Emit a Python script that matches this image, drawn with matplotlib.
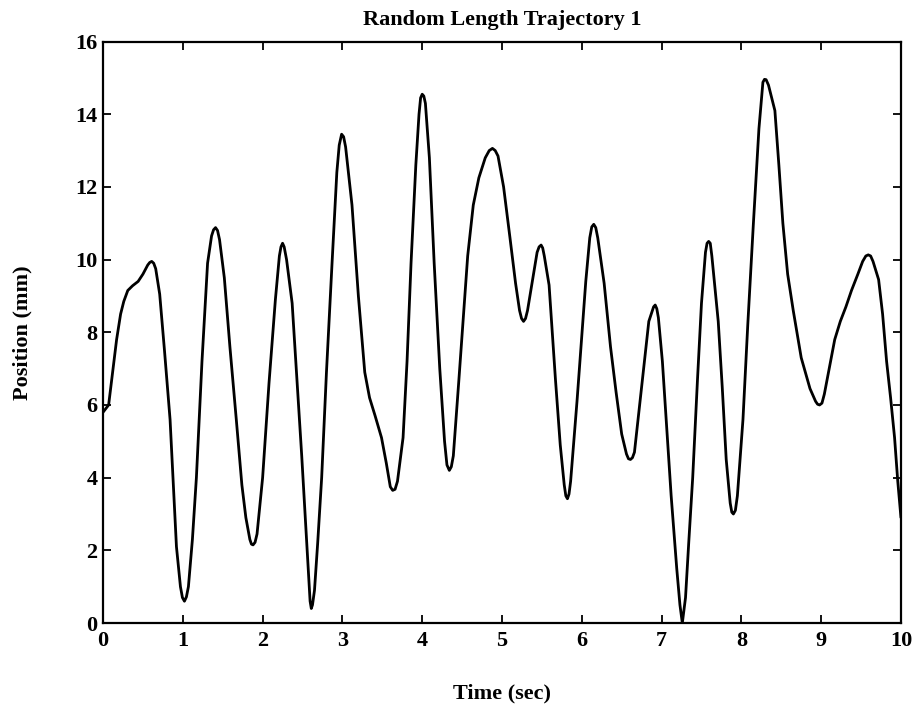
import matplotlib
matplotlib.use("Agg")
import matplotlib.pyplot as plt

# Values (time in sec, position in mm)
time_sec = [
    0.00, 0.07, 0.12, 0.17, 0.22, 0.26, 0.31, 0.37, 0.44, 0.50, 0.56, 0.585, 0.61, 0.635, 0.66,
    0.71, 0.77, 0.84, 0.92, 0.97, 0.995, 1.02, 1.045, 1.07, 1.12, 1.17, 1.24, 1.31, 1.36, 1.385,
    1.41, 1.435, 1.46, 1.52, 1.59, 1.67, 1.74, 1.79, 1.84, 1.86, 1.88, 1.905, 1.93, 2.00, 2.08,
    2.16, 2.21, 2.23, 2.25, 2.27, 2.30, 2.37, 2.43, 2.49, 2.55, 2.58, 2.595, 2.61, 2.625, 2.65,
    2.69, 2.74, 2.80, 2.87, 2.93, 2.96, 2.99, 3.015, 3.04, 3.12, 3.20, 3.28, 3.34, 3.41, 3.49,
    3.55, 3.60, 3.63, 3.66, 3.69, 3.76, 3.81, 3.86, 3.92, 3.96, 3.98, 4.00, 4.02, 4.04, 4.09,
    4.15, 4.22, 4.28, 4.31, 4.34, 4.365, 4.39, 4.46, 4.57, 4.64, 4.71, 4.79, 4.84, 4.88, 4.915,
    4.95, 5.02, 5.10, 5.17, 5.22, 5.245, 5.27, 5.295, 5.32, 5.38, 5.44, 5.465, 5.49, 5.51, 5.53,
    5.59, 5.67, 5.73, 5.78, 5.80, 5.82, 5.84, 5.86, 5.94, 6.05, 6.10, 6.125, 6.15, 6.175, 6.20,
    6.28, 6.36, 6.43, 6.50, 6.56, 6.585, 6.61, 6.635, 6.66, 6.76, 6.84, 6.90, 6.92, 6.94, 6.96,
    7.01, 7.06, 7.12, 7.19, 7.23, 7.26, 7.30, 7.34, 7.39, 7.45, 7.50, 7.55, 7.57, 7.59, 7.61,
    7.63, 7.71, 7.76, 7.81, 7.86, 7.88, 7.90, 7.925, 7.95, 8.02, 8.08, 8.15, 8.22, 8.27, 8.29,
    8.31, 8.34, 8.42, 8.47, 8.52, 8.58, 8.65, 8.75, 8.86, 8.93, 8.955, 8.98, 9.01, 9.04, 9.11,
    9.17, 9.24, 9.31, 9.38, 9.46, 9.52, 9.56, 9.59, 9.62, 9.65, 9.72, 9.77, 9.82, 9.87, 9.92,
    9.96, 10.00,
]
position_mm = [
    5.80, 6.00, 6.90, 7.80, 8.50, 8.85, 9.15, 9.28, 9.40, 9.60, 9.85, 9.92, 9.95, 9.90, 9.75,
    9.05, 7.50, 5.60, 2.10, 1.00, 0.70, 0.60, 0.72, 1.00, 2.30, 4.00, 7.20, 9.90, 10.65, 10.82,
    10.88, 10.80, 10.55, 9.50, 7.60, 5.60, 3.80, 2.90, 2.30, 2.17, 2.15, 2.22, 2.45, 4.00, 6.60,
    8.90, 10.10, 10.35, 10.45, 10.35, 10.00, 8.80, 6.70, 4.60, 2.30, 1.10, 0.60, 0.40, 0.50, 0.90,
    2.20, 4.00, 6.90, 9.90, 12.40, 13.15, 13.45, 13.38, 13.10, 11.50, 9.00, 6.90, 6.20, 5.70, 5.10,
    4.40, 3.75, 3.65, 3.68, 3.90, 5.10, 7.20, 9.90, 12.60, 14.00, 14.45, 14.55, 14.50, 14.30, 12.80,
    9.90, 7.00, 5.00, 4.35, 4.20, 4.30, 4.60, 6.70, 10.10, 11.50, 12.25, 12.80, 13.00, 13.06, 13.00,
    12.85, 12.00, 10.60, 9.35, 8.60, 8.38, 8.30, 8.38, 8.60, 9.40, 10.20, 10.35, 10.40, 10.32, 10.10,
    9.30, 6.70, 4.90, 3.80, 3.50, 3.42, 3.55, 3.90, 6.10, 9.40, 10.60, 10.90, 10.97, 10.88, 10.60,
    9.35, 7.60, 6.35, 5.20, 4.65, 4.52, 4.50, 4.55, 4.70, 6.70, 8.30, 8.70, 8.75, 8.65, 8.40,
    7.20, 5.50, 3.50, 1.50, 0.50, 0.00, 0.70, 2.20, 4.00, 6.70, 8.80, 10.20, 10.45, 10.50, 10.45,
    10.10, 8.30, 6.50, 4.50, 3.30, 3.05, 3.00, 3.10, 3.50, 5.60, 8.20, 10.97, 13.60, 14.88, 14.96,
    14.95, 14.80, 14.10, 12.60, 11.00, 9.60, 8.60, 7.30, 6.45, 6.10, 6.02, 6.00, 6.05, 6.30, 7.10,
    7.80, 8.30, 8.70, 9.15, 9.60, 9.95, 10.10, 10.13, 10.10, 9.95, 9.45, 8.50, 7.20, 6.20, 5.10,
    3.90, 2.90,
]
x_ticks = [0, 1, 2, 3, 4, 5, 6, 7, 8, 9, 10]
y_ticks = [0, 2, 4, 6, 8, 10, 12, 14, 16]
title_text = "Random Length Trajectory 1"
x_label = "Time (sec)"
y_label = "Position (mm)"

plt.rcParams['font.family'] = ['Liberation Serif', 'DejaVu Serif']
plt.rcParams['font.weight'] = 'bold'

fig = plt.figure(figsize=(9.2, 7.1), dpi=100)
ax = fig.add_axes([0.112, 0.1225, 0.8673, 0.819])

ax.plot(time_sec, position_mm, color='black', linewidth=2.0,
        solid_joinstyle='round', solid_capstyle='round')

ax.set_xlim(0, 10)
ax.set_ylim(0, 16)
ax.set_xticks(x_ticks)
ax.set_yticks(y_ticks)
ax.set_xticklabels([str(v) for v in x_ticks], fontsize=16, fontweight='bold')
ax.set_yticklabels([str(v) for v in y_ticks], fontsize=16, fontweight='bold')
ax.tick_params(direction='in', length=6, width=1.3, top=True, right=True, color='black')
ax.tick_params(axis='x', pad=6)
ax.tick_params(axis='y', pad=4)
for s in ax.spines.values():
    s.set_linewidth(1.6)
    s.set_color('black')

ax.set_title(title_text, fontsize=16, fontweight='bold', pad=12)
ax.set_xlabel(x_label, fontsize=16, fontweight='bold', labelpad=23)
ax.set_ylabel(y_label, fontsize=16, fontweight='bold', labelpad=31)

fig.savefig("out.png", dpi=100, facecolor='white')
